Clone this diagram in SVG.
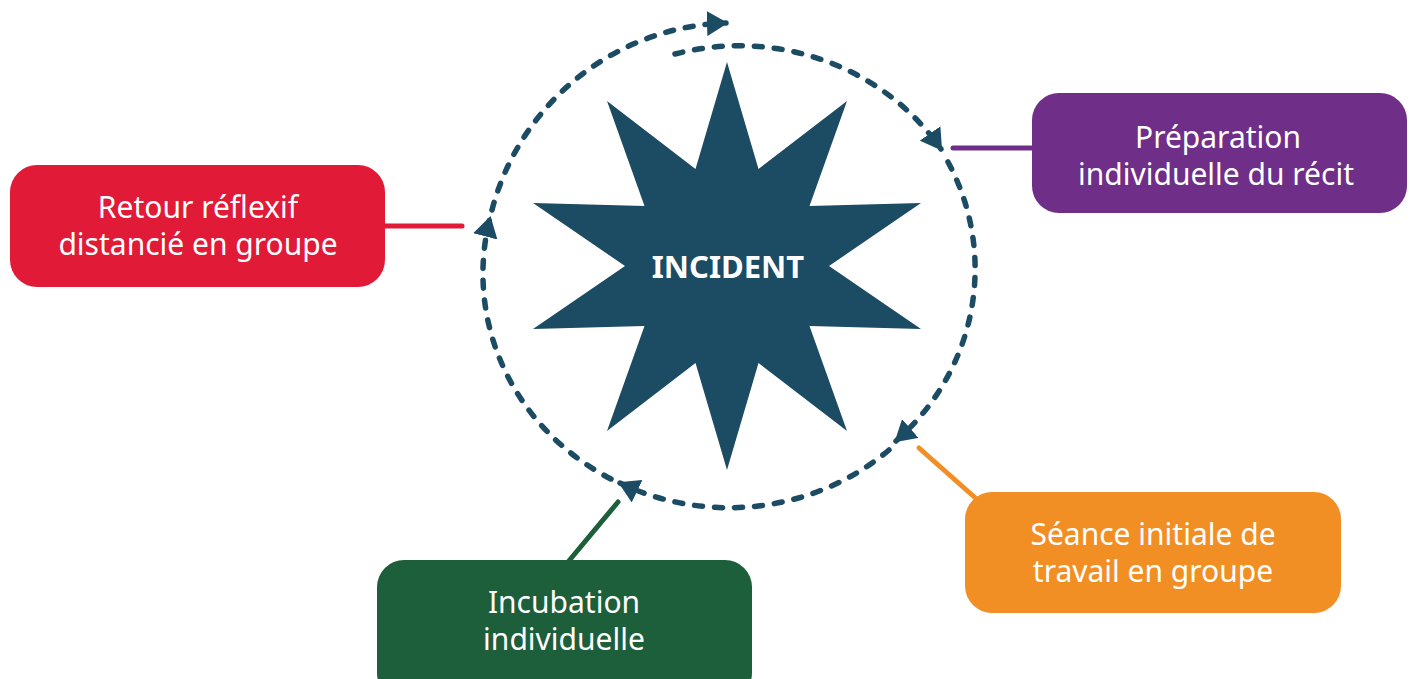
<svg xmlns="http://www.w3.org/2000/svg" width="1410" height="679" viewBox="0 0 1410 679">
<style>
.lbl{font-family:"Noto Sans","Liberation Sans",sans-serif;font-size:30px;fill:#ffffff;text-anchor:middle}
.title{font-family:"Noto Sans","Liberation Sans",sans-serif;font-size:31px;font-weight:bold;fill:#ffffff;text-anchor:middle}
.cyc{fill:none;stroke:#1c4b64;stroke-width:5.5;stroke-linecap:round;stroke-dasharray:8 12;marker-end:url(#ah)}
.link{fill:none;stroke-width:5;stroke-linecap:round}
</style>
<defs>
<marker id="ah" markerUnits="userSpaceOnUse" viewBox="0 0 21 25" refX="19" refY="12.5" markerWidth="21" markerHeight="25" orient="auto">
<path d="M0,0 L21,12.5 L0,25 z" fill="#1c4b64"/>
</marker>
</defs>
<rect width="1410" height="679" fill="#ffffff"/>
<g id="incident">
<polygon fill="#1c4b64" points="727,62 758.5,169 847,101 809.5,206 921,203 829,266 921,329 809.5,326 847,431 758.5,363 727,470 695.5,363 607,431 644.5,326 533,329 625,266 533,203 644.5,206 607,101 695.5,169"/>
<text class="title" x="728" y="278">INCIDENT</text>
</g>
<g id="connectors">
<path class="cyc" d="M 675 54 A 243 233 0 0 1 941 149"/>
<path class="cyc" d="M 948 162 A 243 233 0 0 1 896 441"/>
<path class="cyc" d="M 889 450 A 243 233 0 0 1 620 483"/>
<path class="cyc" d="M 611 479 A 243 233 0 0 1 490 218"/>
<path class="cyc" d="M 492 210 A 250 250 0 0 1 726 23"/>
<line class="link" x1="385" y1="226" x2="462" y2="226" stroke="#e01a37"/>
<line class="link" x1="953" y1="148" x2="1032" y2="148" stroke="#6f2e88"/>
<line class="link" x1="919" y1="448" x2="980" y2="502" stroke="#f18f24"/>
<line class="link" x1="618" y1="502" x2="568" y2="562" stroke="#1d5e3b"/>
</g>
<g id="retour">
<rect x="10" y="165" width="375" height="122" rx="27" fill="#e01a37"/>
<text class="lbl" x="198" y="218">Retour réflexif</text>
<text class="lbl" x="198" y="255">distancié en groupe</text>
</g>
<g id="preparation">
<rect x="1032" y="93" width="375" height="120" rx="27" fill="#6f2e88"/>
<text class="lbl" x="1218" y="148">Préparation</text>
<text class="lbl" x="1216" y="185">individuelle du récit</text>
</g>
<g id="seance">
<rect x="965" y="492" width="376" height="121" rx="27" fill="#f18f24"/>
<text class="lbl" x="1153" y="545">Séance initiale de</text>
<text class="lbl" x="1153" y="582">travail en groupe</text>
</g>
<g id="incubation">
<rect x="377" y="560" width="375" height="140" rx="27" fill="#1d5e3b"/>
<text class="lbl" x="564" y="613">Incubation</text>
<text class="lbl" x="564" y="650">individuelle</text>
</g>
</svg>
